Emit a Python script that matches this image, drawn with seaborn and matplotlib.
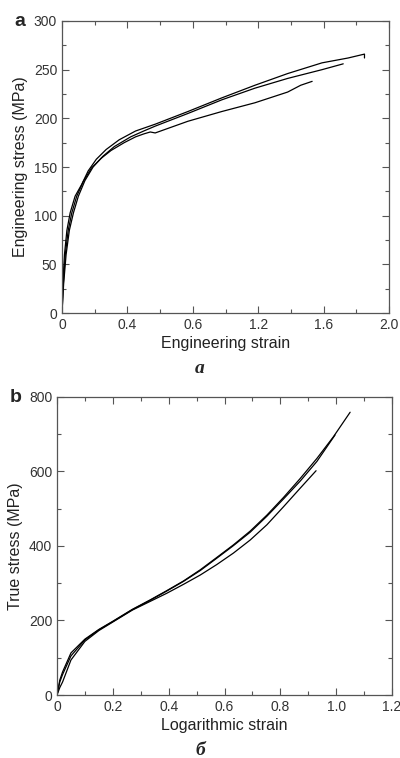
import matplotlib
matplotlib.use("Agg")
import matplotlib.pyplot as plt
import seaborn as sns
import pandas as pd
from matplotlib.ticker import MultipleLocator, FixedLocator, FixedFormatter

# Engineering stress-strain curves (panel a)
eng_strain_1 = [0, 0.005, 0.015, 0.03, 0.05, 0.08, 0.12, 0.16, 0.21, 0.27, 0.35, 0.45, 0.57,
                0.77, 0.977, 1.18, 1.38, 1.59, 1.75, 1.85, 1.85]
eng_stress_1 = [0, 30, 60, 85, 103, 120, 132, 146, 158, 168, 178, 187, 194,
                207, 221, 234, 246, 257, 262, 266, 262]
eng_strain_2 = [0, 0.01, 0.025, 0.045, 0.07, 0.1, 0.14, 0.19, 0.25, 0.32, 0.42, 0.5, 0.57,
                0.77, 0.977, 1.18, 1.38, 1.59, 1.72]
eng_stress_2 = [0, 30, 60, 85, 103, 120, 136, 150, 161, 171, 181, 187, 192,
                205, 219, 231, 241, 250, 256]
eng_strain_3 = [0, 0.008, 0.02, 0.038, 0.06, 0.09, 0.13, 0.18, 0.24, 0.3, 0.38, 0.45, 0.5,
                0.54, 0.57, 0.77, 0.977, 1.18, 1.38, 1.46, 1.53]
eng_stress_3 = [0, 30, 60, 85, 103, 120, 135, 149, 159, 167, 175, 181, 184,
                186, 185, 197, 207, 216, 227, 234, 238]

# True stress vs logarithmic strain (panel b)
log_strain_1 = [0, 0.01, 0.02, 0.05, 0.1, 0.15, 0.2, 0.27, 0.333, 0.393, 0.453, 0.513, 0.572,
                0.632, 0.692, 0.752, 0.811, 0.871, 0.931, 0.99, 1.05]
true_stress_1 = [0, 40, 62, 113, 150, 176, 198, 230, 255, 280, 306, 336, 369,
                 403, 440, 483, 530, 581, 635, 693, 759]
log_strain_2 = [0, 0.01, 0.02, 0.05, 0.1, 0.15, 0.2, 0.27, 0.333, 0.393, 0.453, 0.513, 0.572,
                0.632, 0.692, 0.752, 0.811, 0.871, 0.931, 0.996]
true_stress_2 = [0, 35, 55, 105, 148, 175, 197, 229, 254, 279, 305, 334, 367,
                 401, 437, 480, 526, 574, 627, 698]
log_strain_3 = [0, 0.01, 0.02, 0.05, 0.1, 0.15, 0.2, 0.27, 0.333, 0.393, 0.453, 0.513, 0.572,
                0.632, 0.692, 0.752, 0.811, 0.871, 0.928]
true_stress_3 = [0, 20, 35, 94, 144, 173, 196, 228, 251, 273, 297, 322, 350,
                 381, 416, 457, 505, 555, 602]

eng_xticks = [0, 0.4, 0.8, 1.2, 1.6, 2.0]
eng_xlabels = ["0", "0.4", "0.6", "1.2", "1.6", "2.0"]

sns.set_style("ticks")
plt.rcParams['font.family'] = ['Liberation Sans', 'DejaVu Sans']

fig = plt.figure(figsize=(4, 7.58), dpi=100)
ax_a = fig.add_axes([0.155, 0.587, 0.8175, 0.3853])
ax_b = fig.add_axes([0.1425, 0.0831, 0.8375, 0.3932])

def curve(ax, xs, ys):
    df = pd.DataFrame({"x": xs, "y": ys})
    sns.lineplot(data=df, x="x", y="y", ax=ax, sort=False, estimator=None,
                 color="black", linewidth=0.9)

curve(ax_a, eng_strain_1, eng_stress_1)
curve(ax_a, eng_strain_2, eng_stress_2)
curve(ax_a, eng_strain_3, eng_stress_3)
curve(ax_b, log_strain_1, true_stress_1)
curve(ax_b, log_strain_2, true_stress_2)
curve(ax_b, log_strain_3, true_stress_3)

grey = "#555555"
for ax in (ax_a, ax_b):
    for s in ax.spines.values():
        s.set_color(grey)
        s.set_linewidth(0.9)
    ax.tick_params(which="both", direction="in", top=True, right=True,
                   colors=grey, labelcolor="#333333", labelsize=10, width=0.8)
    ax.tick_params(which="major", length=5)
    ax.tick_params(which="minor", length=3)

ax_a.set_xlim(0, 2.0)
ax_a.set_ylim(0, 300)
ax_a.xaxis.set_major_locator(FixedLocator(eng_xticks))
ax_a.xaxis.set_major_formatter(FixedFormatter(eng_xlabels))
ax_a.xaxis.set_minor_locator(MultipleLocator(0.2))
ax_a.yaxis.set_major_locator(MultipleLocator(50))
ax_a.yaxis.set_minor_locator(MultipleLocator(25))
ax_a.set_xlabel("Engineering strain", fontsize=11.5, color="#222222", labelpad=3)
ax_a.set_ylabel("Engineering stress (MPa)", fontsize=11.5, color="#222222", labelpad=4)

ax_b.set_xlim(0, 1.2)
ax_b.set_ylim(0, 800)
ax_b.xaxis.set_major_locator(MultipleLocator(0.2))
ax_b.xaxis.set_major_formatter(plt.FuncFormatter(lambda v, p: "0" if v == 0 else f"{v:.1f}"))
ax_b.xaxis.set_minor_locator(MultipleLocator(0.1))
ax_b.yaxis.set_major_locator(MultipleLocator(200))
ax_b.yaxis.set_minor_locator(MultipleLocator(100))
ax_b.set_xlabel("Logarithmic strain", fontsize=11.5, color="#222222", labelpad=3)
ax_b.set_ylabel("True stress (MPa)", fontsize=11.5, color="#222222", labelpad=4)

fig.text(0.035, 0.972, "a", fontsize=14, fontweight="bold", ha="left", va="center")
fig.text(0.025, 0.476, "b", fontsize=14, fontweight="bold", ha="left", va="center")
fig.text(0.5, 0.514, "a", fontsize=14, fontweight="bold", fontstyle="italic",
         family="Liberation Serif", ha="center", va="center")
fig.text(0.5, 0.01, "б", fontsize=14, fontweight="bold", fontstyle="italic",
         family="Liberation Serif", ha="center", va="center")

fig.savefig("out.png", dpi=100)
